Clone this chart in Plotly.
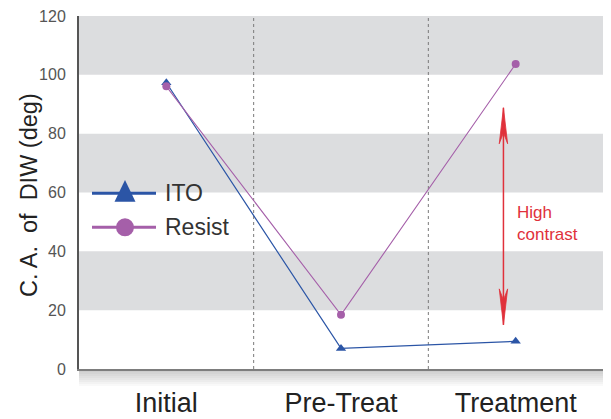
import plotly.graph_objects as go

categories = ["Initial", "Pre-Treat", "Treatment"]
series_names = ["ITO", "Resist"]
ito_values = [97.3, 7.0, 9.4]
resist_values = [96.1, 18.4, 103.7]
y_ticks = [0, 20, 40, 60, 80, 100, 120]
band_ranges = [(20, 40), (60, 80), (100, 120)]
arrow_top = 88.8
arrow_bottom = 15.0
arrow_x = 1.93

BLUE = "#2b55a6"
PURPLE = "#a55fa9"
RED = "#e0313b"
FONT = "Liberation Sans"

# page has an 8px body margin; plot area wanted at page px x 79..603, y 16..369
OFF = 8
PL, PR, PT, PB = 79, 603, 16, 369
FIG_W, FIG_H = 611 - OFF, 419 - OFF
W = PR - PL
H = PB - PT


def px_x(p):
    return (p - PL) / W


def px_y(p):
    return (PB - p) / H


fig = go.Figure()

fig.add_trace(go.Scatter(x=categories, y=ito_values, mode="lines+markers", name=series_names[0],
                         line=dict(color=BLUE, width=1.2),
                         marker=dict(symbol="triangle-up", size=9, color=BLUE),
                         showlegend=False))
fig.add_trace(go.Scatter(x=categories, y=resist_values, mode="lines+markers", name=series_names[1],
                         line=dict(color=PURPLE, width=1.1),
                         marker=dict(symbol="circle", size=8, color=PURPLE),
                         showlegend=False))

shapes = []
for lo, hi in band_ranges:
    shapes.append(dict(type="rect", xref="paper", yref="y", x0=0, x1=1, y0=lo, y1=hi,
                       fillcolor="#dcdddf", line=dict(width=0), layer="below"))
for xv in [0.5, 1.5]:
    shapes.append(dict(type="line", xref="x", yref="paper", x0=xv, x1=xv, y0=0, y1=1,
                       line=dict(color="#7a7a7a", width=1, dash="3px,3px"), layer="below"))

# drop shadow (bottom and right)
for i in range(8):
    op = 0.30 * (1 - i / 8)
    shapes.append(dict(type="rect", xref="paper", yref="paper",
                       x0=0, x1=1 + 4 / W, y0=-(1 + 2 * i) / H, y1=-(3 + 2 * i) / H,
                       fillcolor="rgba(90,90,90,%.3f)" % op, line=dict(width=0), layer="below"))
for i in range(4):
    op = 0.35 * (1 - i / 4)
    shapes.append(dict(type="rect", xref="paper", yref="paper",
                       x0=1 + i / W, x1=1 + (i + 1) / W, y0=-1 / H, y1=1 - 6 / H,
                       fillcolor="rgba(90,90,90,%.3f)" % op, line=dict(width=0), layer="below"))

# double arrow with long barbed heads
shapes.append(dict(type="line", xref="x", yref="y", x0=arrow_x, x1=arrow_x,
                   y0=arrow_bottom, y1=arrow_top, line=dict(color=RED, width=1.5)))
for yv, sgn in [(arrow_top, -1), (arrow_bottom, 1)]:
    shapes.append(dict(type="path", xref="x", yref="y", xsizemode="pixel", ysizemode="pixel",
                       xanchor=arrow_x, yanchor=yv,
                       path="M 0,0 L -4.2,%g L 0,%g L 4.2,%g Z" % (sgn * 36, sgn * 25, sgn * 36),
                       fillcolor=RED, line=dict(color=RED, width=0.8)))

# legend (drawn as layout decorations)
leg_y = [px_y(193.3), px_y(227.3)]
for yv, col in zip(leg_y, [BLUE, PURPLE]):
    shapes.append(dict(type="line", xref="paper", yref="paper", x0=px_x(92), x1=px_x(156),
                       y0=yv, y1=yv, line=dict(color=col, width=3)))
shapes.append(dict(type="path", xref="paper", yref="paper", xsizemode="pixel", ysizemode="pixel",
                   xanchor=px_x(125), yanchor=leg_y[0],
                   path="M 0,13.3 L -10.5,-8.4 L 10.5,-8.4 Z",
                   fillcolor=BLUE, line=dict(color=BLUE, width=0)))
shapes.append(dict(type="circle", xref="paper", yref="paper", xsizemode="pixel", ysizemode="pixel",
                   xanchor=px_x(125), yanchor=leg_y[1], x0=-9, x1=9, y0=-9, y1=9,
                   fillcolor=PURPLE, line=dict(color=PURPLE, width=0)))

annotations = [
    dict(text="High<br>contrast", xref="x", yref="y", x=1.995, y=49.5,
         xanchor="left", yanchor="middle", align="left", showarrow=False,
         font=dict(family=FONT, size=17, color=RED)),
    dict(text="C. A.  of  DIW (deg)", xref="paper", yref="paper", x=px_x(29), y=px_y(195),
         textangle=-90, showarrow=False, xanchor="center", yanchor="middle",
         font=dict(family=FONT, size=23.5, color="#222222")),
]
for name, yv in zip(series_names, leg_y):
    annotations.append(dict(text=name, xref="paper", yref="paper", x=px_x(163), y=yv,
                            xanchor="left", yanchor="middle", showarrow=False,
                            font=dict(family=FONT, size=23, color="#333333")))

fig.update_layout(
    width=FIG_W, height=FIG_H,
    margin=dict(l=PL - OFF, r=FIG_W - (PR - OFF), t=PT - OFF, b=FIG_H - (PB - OFF), autoexpand=False),
    paper_bgcolor="white", plot_bgcolor="white",
    font=dict(family=FONT),
    shapes=shapes, annotations=annotations,
    showlegend=False,
)
fig.update_xaxes(range=[-0.5, 2.5], showgrid=False, zeroline=False, automargin=False,
                 showline=True, linecolor="#7d7d7d", linewidth=2,
                 tickfont=dict(size=27, color="#222222", family=FONT),
                 ticklabelstandoff=9, ticks="")
fig.update_yaxes(range=[0, 120], tickvals=y_ticks, showgrid=False, zeroline=False, automargin=False,
                 showline=True, linecolor="#555555", linewidth=2,
                 tickfont=dict(size=16, color="#555555", family=FONT),
                 ticks="", ticklabelstandoff=8, ticklabeloverflow="allow")

fig.write_html("out.html")
